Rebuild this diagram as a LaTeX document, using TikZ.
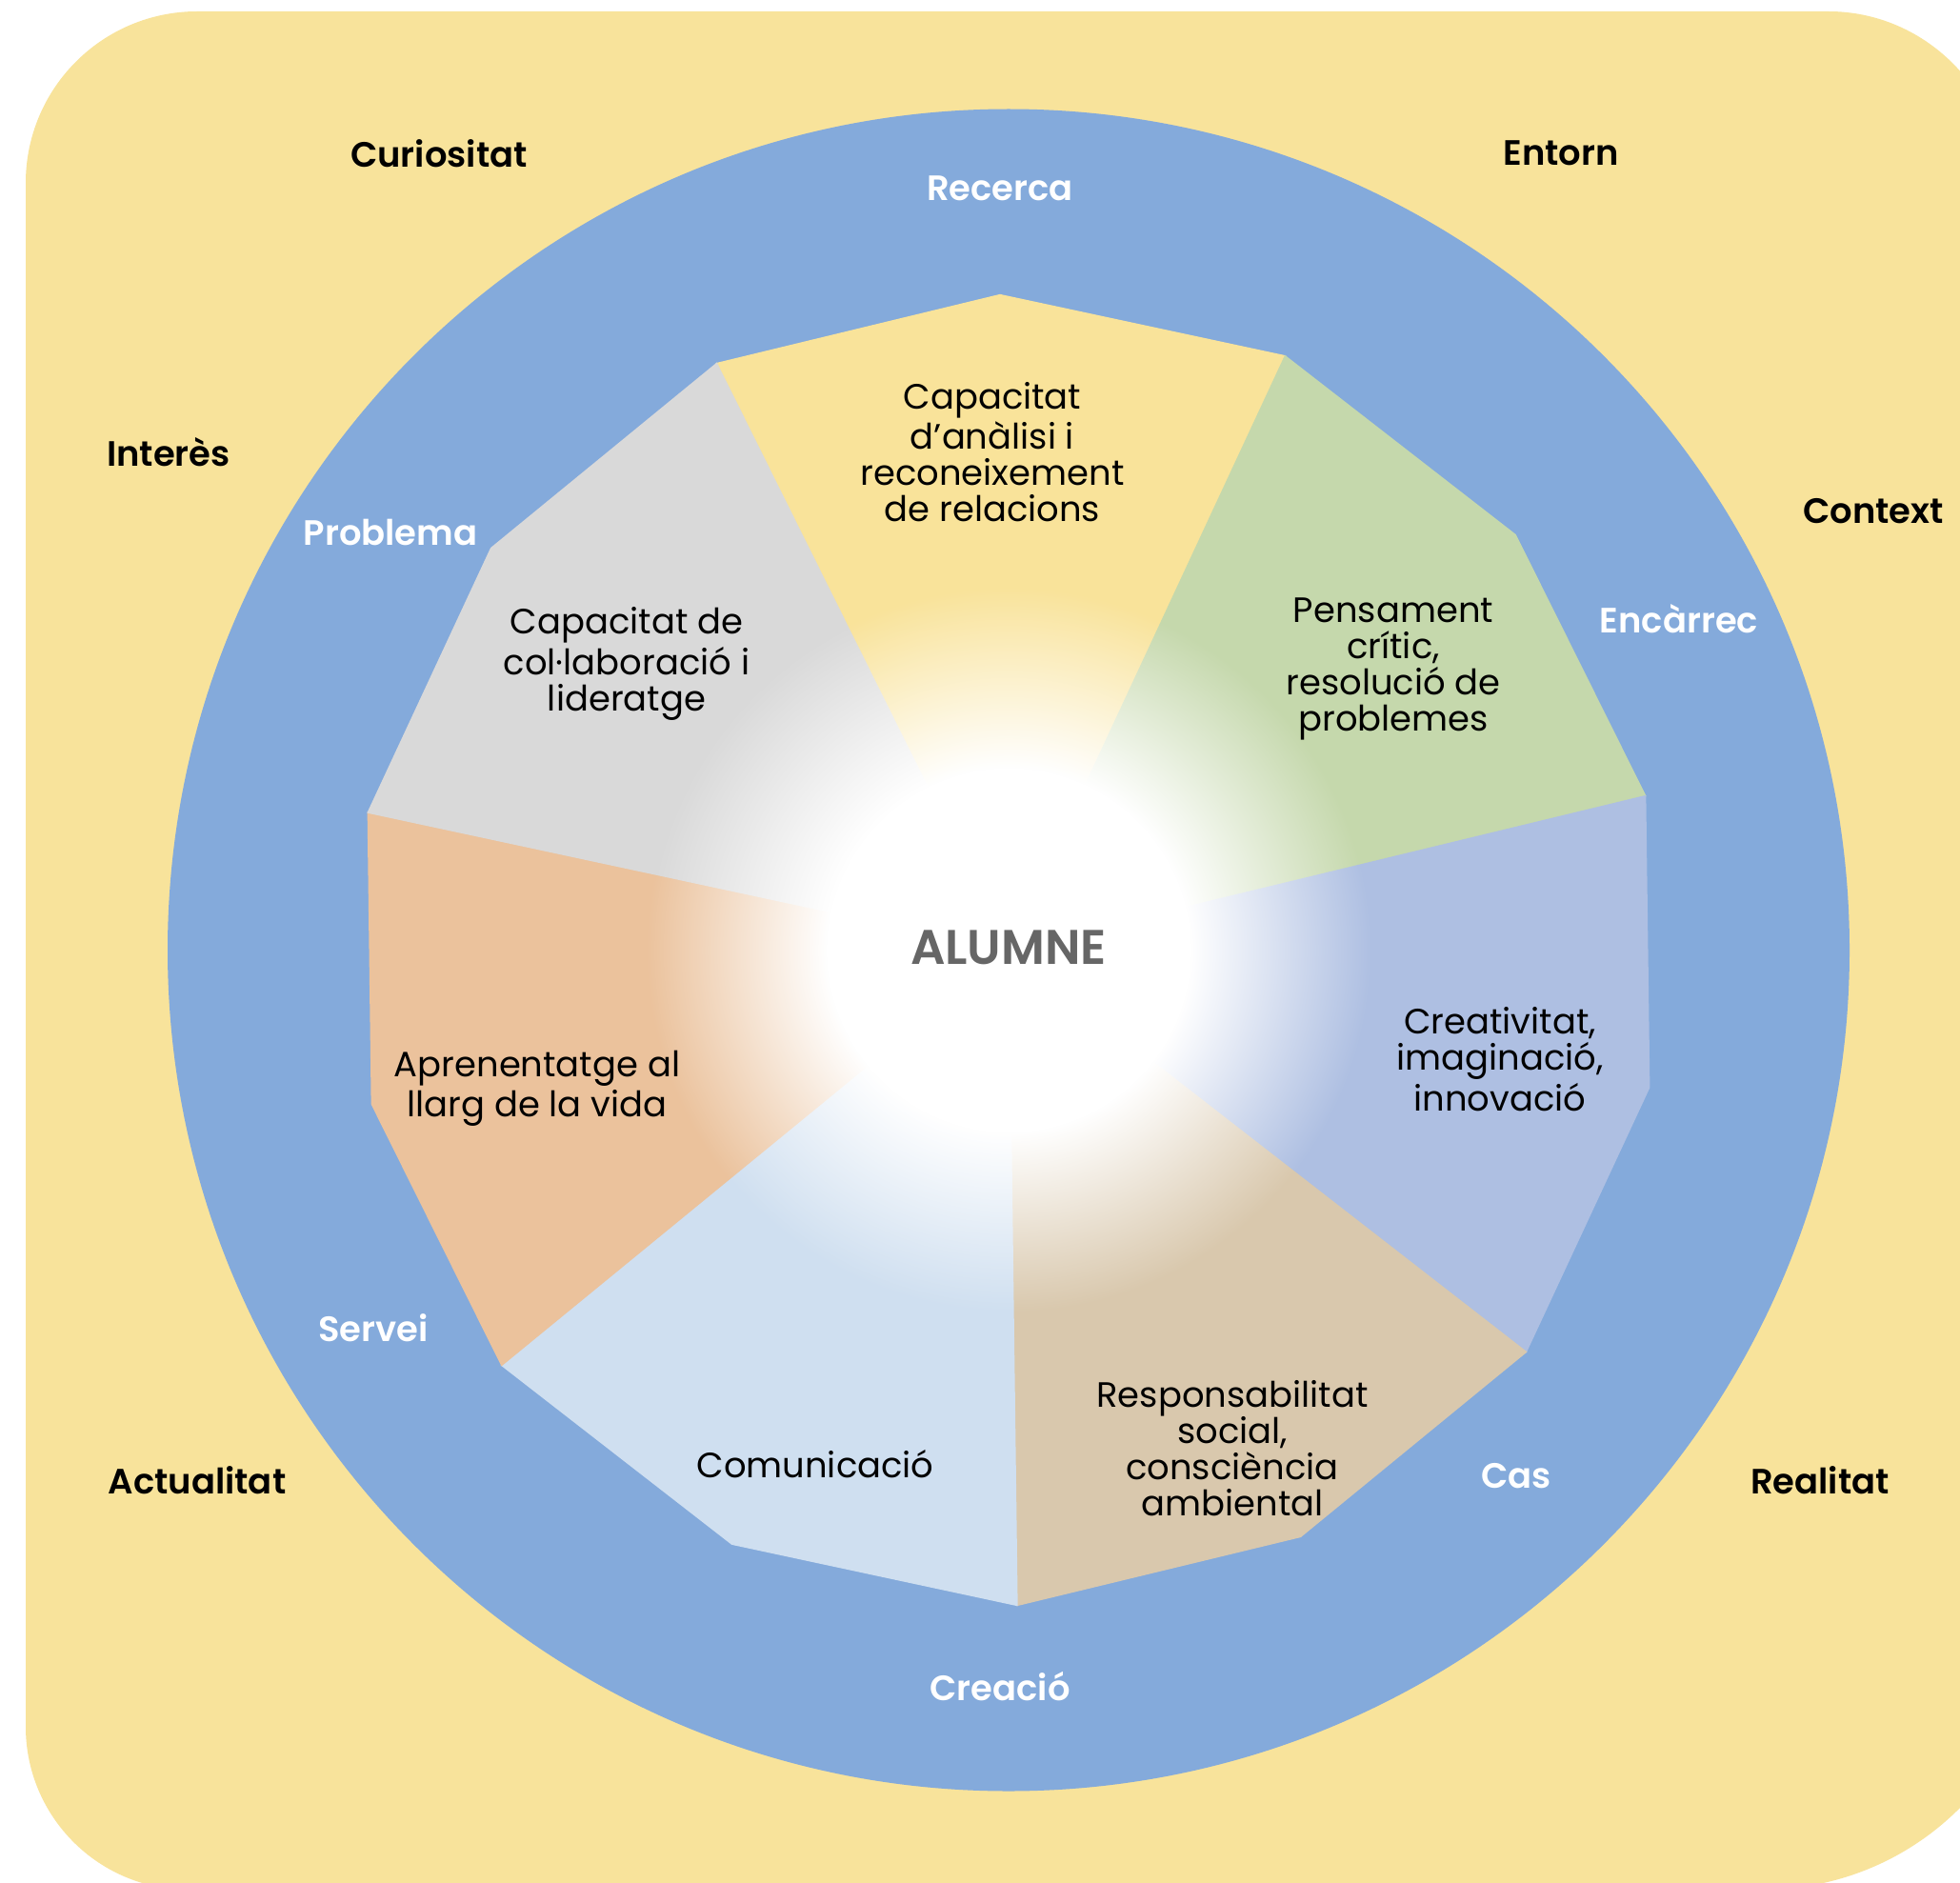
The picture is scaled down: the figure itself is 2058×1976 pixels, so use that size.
\documentclass[tikz,border=0pt]{standalone}
\usepackage{fontspec}
\setmainfont{Poppins}[BoldFont={Poppins SemiBold}]
\usetikzlibrary{fadings}

\definecolor{bgyellow}{HTML}{F8E39B}
\definecolor{ringblue}{HTML}{84AADB}
\definecolor{secyellow}{HTML}{F9E39A}
\definecolor{secgreen}{HTML}{C5D8AC}
\definecolor{seclav}{HTML}{AEBFE2}
\definecolor{sectan}{HTML}{D9C8AD}
\definecolor{seclblue}{HTML}{CFDFF0}
\definecolor{secorange}{HTML}{EBC29C}
\definecolor{secgray}{HTML}{D9D9D9}
\definecolor{hubgray}{HTML}{666666}

% white core, fading out towards the ring
\pgfdeclareradialshading{hubshade}{\pgfpointorigin}{color(0bp)=(white); color(12.5bp)=(white); color(25bp)=(black); color(50bp)=(black)}
\pgfdeclarefading{hubfade}{\pgfuseshading{hubshade}}

\begin{document}
\begin{tikzpicture}
        [x=0.01cm, y=-0.01cm,
        outer/.style={font=\fontsize{10.5}{12}\selectfont\bfseries, text=black},
        ring/.style={font=\fontsize{10.5}{12}\selectfont\bfseries, text=white},
        skill/.style={align=center, font=\fontsize{10.5}{10.8}\selectfont, text=black},
        hub/.style={font=\fontsize{14.5}{16}\selectfont\bfseries, text=hubgray}]

        \useasboundingbox (0,0) rectangle (2058,1976);
        \fill[white] (0,0) rectangle (2058,1976);

        % yellow card, cut by the page edge
        \begin{scope}
        \clip (0,0) rectangle (2058,1976);
        \fill[bgyellow] (27,900) [rounded corners=1.8cm] -- (27,12) [rounded corners=1.8cm] -- (2100,12)
              [rounded corners=3cm] -- (2150,1984) [rounded corners=1.71cm] -- (27,1984) [sharp corners] -- cycle;
        \end{scope}

        % blue ring
        \fill[ringblue] (1059,997.5) circle (883);

        % seven sectors of the 14-gon
        \begin{scope}[shift={(1059,997.5)}]
        \foreach \a/\c in {-90.75/secyellow, -39.32/secgreen, 12.11/seclav, 63.54/sectan,
                           114.97/seclblue, 166.4/secorange, 217.83/secgray}
            \filldraw[fill=\c, draw=\c, line width=0.4pt] (0,0) -- (\a-25.714:688) -- (\a:688) -- (\a+25.714:688) -- cycle;
        % white glow in the middle
        \fill[white, path fading=hubfade] (0,0) circle (380);
        \end{scope}

        % labels outside the ring
        \node[outer] (curiositat) at (461,161) {Curiositat};
        \node[outer] (entorn) at (1639,161) {Entorn};
        \node[outer] (interes) at (177,475) {Interès};
        \node[outer] (context) at (1967,537) {Context};
        \node[outer] (actualitat) at (207,1554) {Actualitat};
        \node[outer] (realitat) at (1911,1554) {Realitat};

        % labels on the ring
        \node[ring] (recerca) at (1050,198) {Recerca};
        \node[ring] (problema) at (410,559) {Problema};
        \node[ring] (encarrec) at (1763,650) {Encàrrec};
        \node[ring] (servei) at (392,1394) {Servei};
        \node[ring] (cas) at (1592,1550) {Cas};
        \node[ring] (creacio) at (1050,1771) {Creació};

        % sector texts
        \node[skill] (analisi) at (1042,475) {Capacitat\\d’anàlisi i\\reconeixement\\de relacions};
        \node[skill] (pensament) at (1463,702) {Pensament\\crític,\\resolució de\\problemes};
        \node[skill] (creativitat) at (1575,1112) {Creativitat,\\imaginació,\\innovació};
        \node[skill] (responsabilitat) at (1294,1521) {Responsabilitat\\social,\\consciència\\ambiental};
        \node[skill] (comunicacio) at (856,1537) {Comunicació};
        \node[skill] (aprenentatge) at (564,1143) {Aprenentatge al\\llarg de la vida};
        \node[skill] (colaboracio) at (658,697) {Capacitat de\\col·laboració i\\lideratge};

        \node[hub] (alumne) at (1059,995) {ALUMNE};

\end{tikzpicture}
\end{document}
